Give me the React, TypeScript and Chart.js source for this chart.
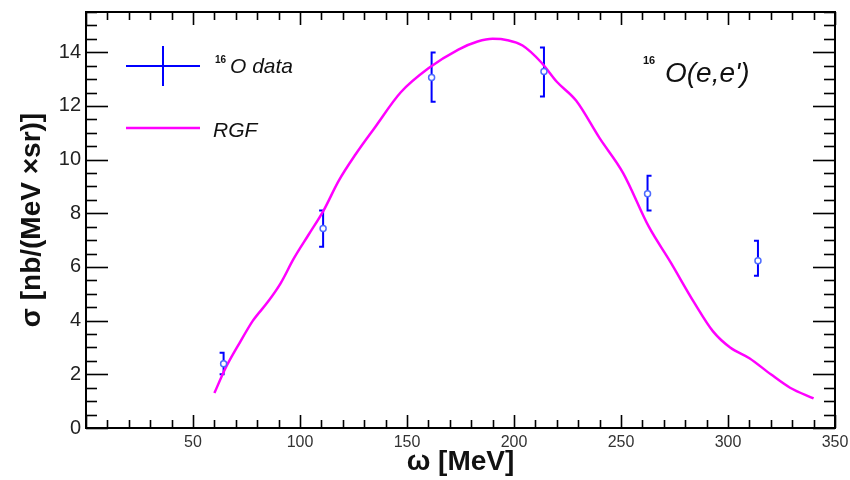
import React, { useEffect, useRef } from 'react';
import { Chart, registerables } from 'chart.js';

Chart.register(...registerables);

// RGF calculation (omega in MeV, sigma in nb/(MeV sr))
const rgfOmega = [60, 65, 72, 78, 85, 91, 97, 104, 111, 118, 126, 135, 147, 160, 174, 183, 190, 197, 204, 213, 220, 229, 240, 251, 263, 273, 284, 293, 301, 310, 320, 329, 340];
const rgfSigma = [1.3, 2.2, 3.2, 4.0, 4.7, 5.4, 6.3, 7.2, 8.1, 9.2, 10.2, 11.2, 12.5, 13.4, 14.1, 14.4, 14.5, 14.45, 14.25, 13.6, 12.9, 12.2, 10.8, 9.5, 7.5, 6.2, 4.7, 3.6, 3.0, 2.6, 2.0, 1.5, 1.1];

// 16O data points
const dataOmega = [64.3, 110.8, 161.5, 214, 262.4, 314];
const dataSigma = [2.39, 7.43, 13.06, 13.28, 8.73, 6.23];
const dataErrUp = [0.41, 0.67, 0.93, 0.9, 0.67, 0.75];
const dataErrDown = [0.39, 0.68, 0.9, 0.93, 0.63, 0.56];
const bracketSide = [']', ']', '[', ']', '[', ']'];

// axes
const xMin = 0, xMax = 350, xMajor = 50, xMinorDiv = 5;
const yMin = 0, yMax = 15.5, yMajor = 2, yMinorDiv = 4;

const xTitle = 'ω [MeV]';
const yTitle = 'σ [nb/(MeV ×sr)]';
const legendData = 'O data';
const legendRgf = 'RGF';
const reactionText = "O(e,e')";
const isotope = '16';

const FONT = '"Liberation Sans", Arial, Helvetica, sans-serif';

const rootPlugin = {
  id: 'rootStyle',
  beforeDatasetsDraw(chart: any) {
    const { ctx, scales } = chart;
    const x = scales.x, y = scales.y;
    ctx.save();
    ctx.strokeStyle = '#0000ff';
    ctx.lineWidth = 2;
    for (let i = 0; i < dataOmega.length; i++) {
      const px = x.getPixelForValue(dataOmega[i]);
      const pt = y.getPixelForValue(dataSigma[i] + dataErrUp[i]);
      const pb = y.getPixelForValue(dataSigma[i] - dataErrDown[i]);
      const s = bracketSide[i] === '[' ? 4 : -4;
      ctx.beginPath();
      ctx.moveTo(px + s, pt);
      ctx.lineTo(px, pt);
      ctx.lineTo(px, pb);
      ctx.lineTo(px + s, pb);
      ctx.stroke();
    }
    ctx.restore();
  },
  afterDraw(chart: any) {
    const { ctx, chartArea: a, scales } = chart;
    const x = scales.x, y = scales.y;
    const line = (x1: number, y1: number, x2: number, y2: number) => {
      ctx.beginPath();
      ctx.moveTo(x1, y1);
      ctx.lineTo(x2, y2);
      ctx.stroke();
    };
    ctx.save();
    ctx.strokeStyle = '#000';
    ctx.lineWidth = 1.6;
    const xSteps = Math.round((xMax - xMin) / (xMajor / xMinorDiv));
    for (let i = 0; i <= xSteps; i++) {
      const v = xMin + i * (xMajor / xMinorDiv);
      const major = i % xMinorDiv === 0;
      const px = Math.round(x.getPixelForValue(v)) + 0.5;
      const len = major ? 13 : 8;
      line(px, a.bottom, px, a.bottom - len);
      line(px, a.top, px, a.top + len);
    }
    const ySteps = Math.floor((yMax - yMin) / (yMajor / yMinorDiv) + 1e-6);
    for (let i = 0; i <= ySteps; i++) {
      const v = yMin + i * (yMajor / yMinorDiv);
      const major = i % yMinorDiv === 0;
      const py = Math.round(y.getPixelForValue(v)) + 0.5;
      const len = major ? 22 : 11;
      line(a.left, py, a.left + len, py);
      line(a.right, py, a.right - len, py);
    }
    ctx.lineWidth = 2;
    ctx.strokeRect(a.left, a.top, a.right - a.left, a.bottom - a.top);

    // legend
    ctx.strokeStyle = '#0000ff';
    ctx.lineWidth = 2;
    line(126, 66, 200, 66);
    line(163, 46, 163, 86);
    ctx.strokeStyle = '#ff00ff';
    ctx.lineWidth = 2.5;
    line(126, 128, 200, 128);

    ctx.fillStyle = '#111';
    ctx.textAlign = 'left';
    ctx.textBaseline = 'alphabetic';
    ctx.font = `bold 10px ${FONT}`;
    ctx.fillText(isotope, 215, 63);
    ctx.font = `italic 21px ${FONT}`;
    ctx.fillText(legendData, 230, 73);
    ctx.fillText(legendRgf, 213, 137);

    ctx.font = `bold 11px ${FONT}`;
    ctx.fillText(isotope, 643, 64);
    ctx.font = `italic 28px ${FONT}`;
    ctx.fillText(reactionText, 665, 82);
    ctx.restore();
  },
};

export default function App() {
  const ref = useRef<HTMLCanvasElement | null>(null);
  useEffect(() => {
    if (!ref.current) return;
    Chart.defaults.font.family = FONT;
    const chart = new Chart(ref.current, {
      type: 'scatter',
      data: {
        datasets: [
          {
            label: '16O data',
            data: dataOmega.map((o, i) => ({ x: o, y: dataSigma[i] })),
            showLine: false,
            pointRadius: 3,
            pointStyle: 'circle',
            borderColor: '#4d6bff',
            backgroundColor: '#ffffff',
            borderWidth: 1.5,
            order: 0,
          },
          {
            label: 'RGF',
            data: rgfOmega.map((o, i) => ({ x: o, y: rgfSigma[i] })),
            showLine: true,
            pointRadius: 0,
            borderColor: '#ff00ff',
            borderWidth: 2.5,
            cubicInterpolationMode: 'monotone',
            fill: false,
            order: 1,
          },
        ],
      },
      options: {
        animation: false,
        responsive: true,
        maintainAspectRatio: false,
        layout: { padding: { top: 12, right: 15, left: 0, bottom: 0 } },
        plugins: { legend: { display: false }, tooltip: { enabled: false } },
        scales: {
          x: {
            type: 'linear',
            min: xMin,
            max: xMax,
            grid: { display: false, drawTicks: false },
            border: { display: false },
            ticks: {
              stepSize: xMajor,
              includeBounds: false,
              autoSkip: false,
              maxRotation: 0,
              padding: 5,
              color: '#333',
              font: { size: 16 },
              callback: (v: any) => (v === 0 ? '' : String(v)),
            },
            title: {
              display: true,
              text: xTitle,
              color: '#111',
              font: { size: 28, weight: 'bold', lineHeight: 1.0 },
            },
            afterFit: (s: any) => { s.height = 52; s.paddingLeft = 0; s.paddingRight = 0; },
          },
          y: {
            type: 'linear',
            min: yMin,
            max: yMax,
            grid: { display: false, drawTicks: false },
            border: { display: false },
            ticks: {
              stepSize: yMajor,
              includeBounds: false,
              padding: 5,
              color: '#222',
              font: { size: 20 },
            },
            title: {
              display: true,
              text: yTitle,
              color: '#111',
              font: { size: 28, weight: 'bold', lineHeight: 2.05 },
            },
            afterFit: (s: any) => { s.width = 86; s.paddingTop = 0; s.paddingBottom = 0; },
          },
        },
      },
      plugins: [rootPlugin],
    } as any);
    return () => chart.destroy();
  }, []);
  return (
    <div style={{ position: 'fixed', left: 0, top: 0, width: 850, height: 480, background: '#fff' }}>
      <canvas ref={ref} />
    </div>
  );
}
